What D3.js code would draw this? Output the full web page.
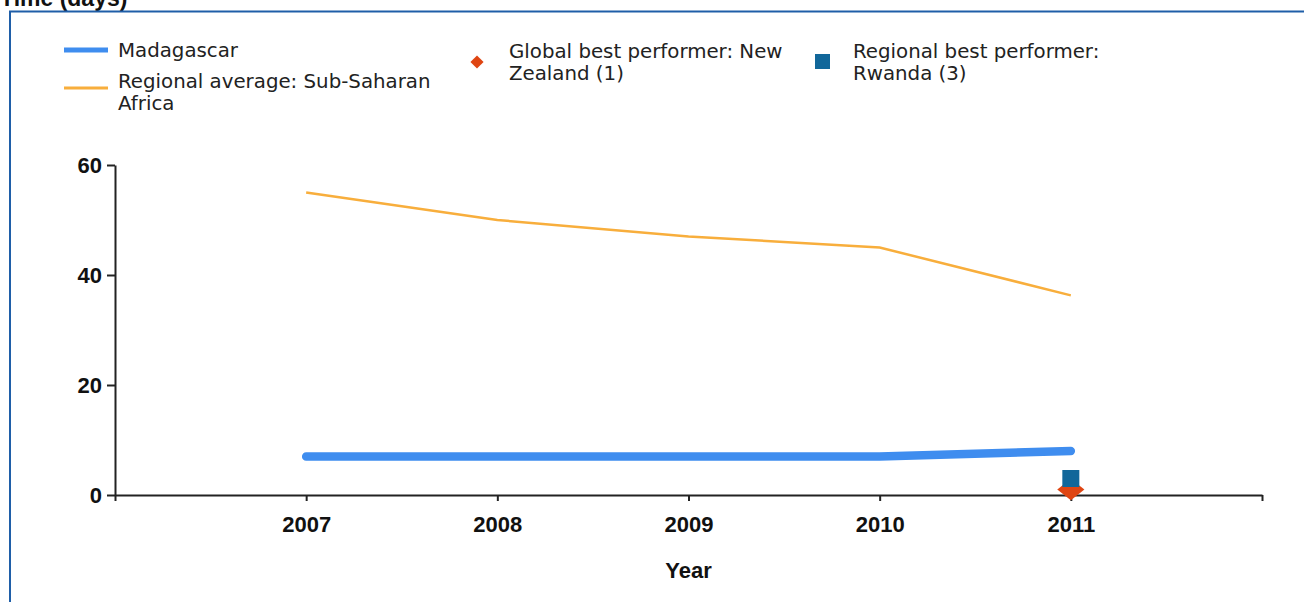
<!DOCTYPE html>
<html>
<head>
<meta charset="utf-8">
<script src="https://cdn.jsdelivr.net/npm/d3@7"></script>
<style>
  body { margin: 0; background: #fff; }
  svg { display: block; }
</style>
</head>
<body>
<div id="chart-area"></div>
<script>
// data
var years = [2007, 2008, 2009, 2010, 2011]
var madagascar = [7, 7, 7, 7, 8]
var regionalAvg = [55, 50, 47, 45, 36.3]
var globalBest = [{ year: 2011, value: 1 }]
var regionalBest = [{ year: 2011, value: 3 }]
var yTicks = [0, 20, 40, 60]

var W = 1304
var H = 602
var margin = { left: 115, right: 42, top: 165, bottom: 107 }

var svg = d3.select('#chart-area')
  .append('svg')
  .attr('width', W)
  .attr('height', H)

// title, its lower half shows at the top like in the reference
svg.append('text')
  .attr('x', 0)
  .attr('y', 6)
  .attr('font-family', 'Liberation Sans, Arial, sans-serif')
  .attr('font-weight', 'bold')
  .attr('font-size', '23px')
  .attr('fill', '#111')
  .text('Time (days)')

// frame
svg.append('rect')
  .attr('x', 10)
  .attr('y', 11.5)
  .attr('width', W + 20)
  .attr('height', H + 20)
  .attr('fill', 'none')
  .attr('stroke', '#1f5ea8')
  .attr('stroke-width', 2)

// scales
var x = d3.scaleLinear()
  .domain([2006, 2012])
  .range([margin.left, W - margin.right])

var y = d3.scaleLinear()
  .domain([0, 60])
  .range([H - margin.bottom, margin.top])

// axes
var xAxis = svg.append('g')
  .attr('transform', 'translate(0, ' + y(0) + ')')
  .call(d3.axisBottom(x)
    .tickValues([2006].concat(years, [2012]))
    .tickFormat(function (d) { return (d === 2006 || d === 2012) ? '' : d })
    .tickSize(6)
    .tickPadding(15)
    .tickSizeOuter(0))

var yAxis = svg.append('g')
  .attr('transform', 'translate(' + margin.left + ', 0)')
  .call(d3.axisLeft(y)
    .tickValues(yTicks)
    .tickSize(8)
    .tickPadding(5)
    .tickSizeOuter(0))

svg.selectAll('.domain, .tick line')
  .attr('stroke', '#222')
  .attr('stroke-width', 2)

svg.selectAll('.tick text')
  .attr('font-family', 'Liberation Sans, Arial, sans-serif')
  .attr('font-weight', 'bold')
  .attr('font-size', '22px')
  .attr('fill', '#111')

yAxis.selectAll('.tick text').attr('dy', '0.35em')

// x label
svg.append('text')
  .attr('x', x(2009))
  .attr('y', 578)
  .attr('text-anchor', 'middle')
  .attr('font-family', 'Liberation Sans, Arial, sans-serif')
  .attr('font-weight', 'bold')
  .attr('font-size', '22px')
  .attr('fill', '#111')
  .text('Year')

// lines
var line = d3.line()
  .x(function (d, i) { return x(years[i]) })
  .y(function (d) { return y(d) })

svg.append('path')
  .datum(regionalAvg)
  .attr('d', line)
  .attr('fill', 'none')
  .attr('stroke', '#f8ae3c')
  .attr('stroke-width', 2.5)

svg.append('path')
  .datum(madagascar)
  .attr('d', line)
  .attr('fill', 'none')
  .attr('stroke', '#3f8def')
  .attr('stroke-width', 8.5)
  .attr('stroke-linecap', 'round')

// best performers
svg.selectAll('.global')
  .data(globalBest)
  .enter().append('path')
  .attr('class', 'global')
  .attr('transform', function (d) { return 'translate(' + x(d.year) + ',' + y(d.value) + ') scale(1.25, 1)' })
  .attr('d', d3.symbol().type(d3.symbolDiamond2).size(300))
  .attr('fill', '#df4512')

svg.selectAll('.regional')
  .data(regionalBest)
  .enter().append('rect')
  .attr('class', 'regional')
  .attr('x', function (d) { return x(d.year) - 8.5 })
  .attr('y', function (d) { return y(d.value) - 8.5 })
  .attr('width', 17)
  .attr('height', 17)
  .attr('fill', '#11679a')

// legend
var legendFont = 'DejaVu Sans, Verdana, sans-serif'

function legendText (xPos, yPos, lines) {
  var t = svg.append('text')
    .attr('x', xPos)
    .attr('y', yPos)
    .attr('font-family', legendFont)
    .attr('font-size', '19.8px')
    .attr('fill', '#222')
  lines.forEach(function (s, i) {
    t.append('tspan')
      .attr('x', xPos)
      .attr('y', yPos + i * 22)
      .text(s)
  })
}

svg.append('line')
  .attr('x1', 64).attr('x2', 108)
  .attr('y1', 50).attr('y2', 50)
  .attr('stroke', '#3f8def')
  .attr('stroke-width', 5)
legendText(118, 57, ['Madagascar'])

svg.append('line')
  .attr('x1', 64).attr('x2', 108)
  .attr('y1', 88).attr('y2', 88)
  .attr('stroke', '#f8ae3c')
  .attr('stroke-width', 3)
legendText(118, 88, ['Regional average: Sub-Saharan', 'Africa'])

svg.append('path')
  .attr('transform', 'translate(477, 62)')
  .attr('d', d3.symbol().type(d3.symbolDiamond2).size(110))
  .attr('fill', '#df4512')
legendText(509, 58, ['Global best performer: New', 'Zealand (1)'])

svg.append('rect')
  .attr('x', 815).attr('y', 54)
  .attr('width', 15).attr('height', 15)
  .attr('fill', '#11679a')
legendText(853, 58, ['Regional best performer:', 'Rwanda (3)'])
</script>
</body>
</html>
